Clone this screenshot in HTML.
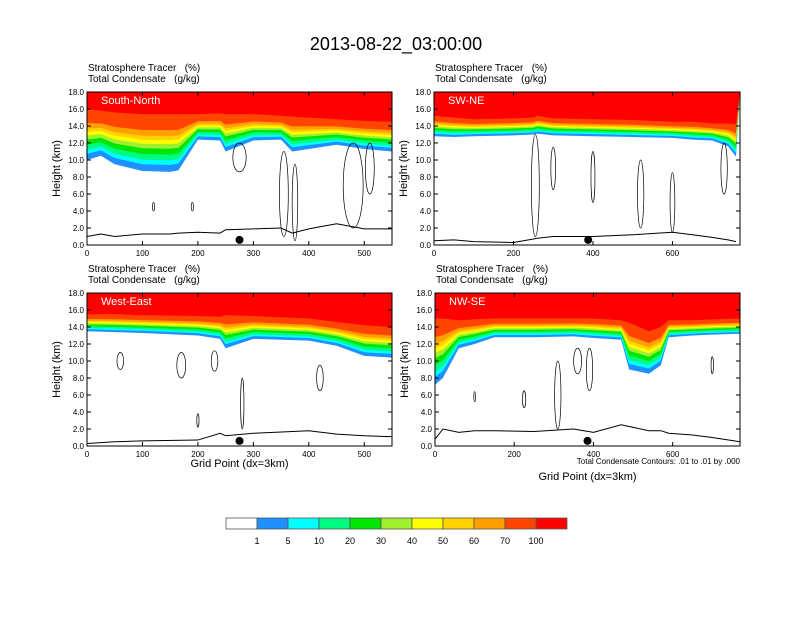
<!DOCTYPE html>
<html><head><meta charset="utf-8"><style>
body{margin:0;background:#fff}
svg text{font-family:"Liberation Sans",sans-serif;white-space:pre}
</style></head><body>
<svg id="fig" width="792" height="612" viewBox="0 0 792 612" xmlns="http://www.w3.org/2000/svg">
<text x="396" y="50" font-size="18" text-anchor="middle">2013-08-22_03:00:00</text>
</svg>
<script>
const NS="http://www.w3.org/2000/svg";
const svg=document.getElementById('fig');
const colors=['#ffffff','#1e90ff','#00ffff','#00fa82','#00e600','#a0f030','#ffff00','#ffd200','#ffa000','#ff4500','#ff0000'];
const cbLabels=['1','5','10','20','30','40','50','60','70','100'];
const yTicks=[0,2,4,6,8,10,12,14,16,18];
const tlX=[0,25,50,100,150,165,200,240,250,300,350,370,400,450,500,550];
const tlRed=[16.0,15.8,15.6,15.4,15.4,15.4,15.4,15.5,15.4,15.4,15.2,15.1,15.0,14.8,14.6,14.5];
const tlBot=[10.0,10.5,9.5,8.7,8.6,8.8,12.4,12.3,11.0,12.3,12.4,11.0,11.3,11.8,11.3,11.0];
const tlTer=[1.0,1.3,1.0,1.3,1.3,1.4,1.5,1.4,1.8,1.9,2.0,1.4,1.9,2.5,1.9,1.9];
const trX=[0,50,100,200,250,260,300,400,500,600,650,700,740,760];
const trRed=[15.2,15.0,14.8,14.9,15.0,15.2,14.9,14.8,14.7,14.5,14.5,14.3,14.3,14.2];
const trBot=[12.8,12.7,12.8,12.9,13.0,13.1,12.9,12.8,12.7,12.6,12.4,12.3,11.6,10.4];
const trTer=[0.5,0.6,0.4,0.3,0.7,0.8,1.0,1.0,1.2,1.5,1.2,0.9,0.6,0.4];
const blX=[0,50,100,200,240,250,300,400,450,500,550];
const blRed=[15.5,15.5,15.4,15.3,15.2,15.4,15.3,15.0,14.6,14.2,14.0];
const blBot=[13.5,13.4,13.3,13.0,12.6,11.5,12.6,12.4,11.8,10.6,10.4];
const blTer=[0.3,0.5,0.6,0.7,1.5,1.2,1.5,1.8,1.4,1.2,1.1];
const brX=[0,20,60,100,150,250,350,400,470,490,540,570,590,650,700,770];
const brRed=[15.0,15.0,14.8,14.9,15.0,15.0,15.0,15.0,14.8,14.5,13.5,14.0,14.8,14.8,14.9,15.0];
const brBot=[7.2,8.0,11.5,12.0,12.8,12.8,12.9,12.7,12.5,9.0,8.5,9.5,12.8,13.0,13.1,13.2];
const brTer=[0.8,2.0,1.6,1.8,1.8,1.7,2.0,1.6,2.5,2.3,1.8,1.8,1.5,1.3,1.0,0.5];
const fr=[0,0.12,0.2,0.3,0.4,0.48,0.55,0.62,0.72,1.0];

function el(tag,attrs,parent){const e=document.createElementNS(NS,tag);for(const k in attrs)e.setAttribute(k,attrs[k]);(parent||svg).appendChild(e);return e;}
function txt(s,x,y,size,anchor,parent,fill){const t=el('text',{x:x,y:y,'font-size':size,'text-anchor':anchor||'start',fill:fill||'#000'},parent);t.textContent=s;return t;}

function panel(name,label,px,py,pw,ph,xmax,xticks,X,RED,BOT,TER,dotX,xtitle,contours){
  const g=el('g',{});
  
  
  const sx=v=>px+v/xmax*pw, sy=v=>py+ph-v/18*ph;
  el('rect',{x:px,y:py,width:pw,height:ph,fill:'#fff'},g);
  for(let b=1;b<=10;b++){
    let pts=[[sx(0),py]];
    for(let i=0;i<X.length;i++){const lo=BOT[i]+(RED[i]-BOT[i])*fr[b-1];pts.push([sx(X[i]),sy(lo)]);}
    pts.push([sx(xmax),py]);
    const p=el('polygon',{points:pts.map(q=>q.join(',')).join(' '),fill:colors[b]},g);
    
    
  }
  contours.forEach(c=>{
    const e=el('ellipse',{cx:sx(c[0]),cy:sy(c[1]),rx:c[2]/xmax*pw,ry:c[3]/18*ph,fill:'none',stroke:'#000','stroke-width':0.7},g);
    
    
  });
  const tp=el('polyline',{points:X.map((x,i)=>sx(x)+','+sy(TER[i])).join(' '),fill:'none',stroke:'#000','stroke-width':1},g);
  
  
  const d=el('circle',{cx:sx(dotX),cy:sy(0.6),r:4,fill:'#000'},g);
  
  
  el('rect',{x:px,y:py,width:pw,height:ph,fill:'none',stroke:'#000','stroke-width':1},g);
  yTicks.forEach(v=>{
    el('line',{x1:px,x2:px+4,y1:sy(v),y2:sy(v),stroke:'#000'},g);
    el('line',{x1:px+pw,x2:px+pw-4,y1:sy(v),y2:sy(v),stroke:'#000'},g);
    const t=txt(v.toFixed(1),px-3,sy(v)+3,8,'end',g);
    
    
  });
  xticks.forEach(v=>{
    el('line',{x1:sx(v),x2:sx(v),y1:py+ph,y2:py+ph-4,stroke:'#000'},g);
    el('line',{x1:sx(v),x2:sx(v),y1:py,y2:py+4,stroke:'#000'},g);
    const t=txt(String(v),sx(v),py+ph+11,8,'middle',g);
    
    
  });
  const l=txt(label,px+14,py+12,11,'start',g,'#fff');
  
  
  const a=txt('Stratosphere Tracer   (%)',px+1,py-21,10,'start',g);
  
  
  const b=txt('Total Condensate   (g/kg)',px+1,py-10,10,'start',g);
  
  
  const yt=txt('Height (km)',0,0,11,'middle',g);
  yt.setAttribute('transform','translate('+(px-27)+','+(py+ph/2)+') rotate(-90)');
  
  
  if(xtitle){const xt=txt('Grid Point (dx=3km)',px+pw/2,xtitle,11,'middle',g);
    
    }
}
panel('panel-south-north','South-North',87,92,305,153,550,[0,100,200,300,400,500],tlX,tlRed,tlBot,tlTer,275,null,
 [[275,10.3,12,1.7],[355,6,8,5],[375,5,5,4.5],[480,7,18,5],[510,9,8,3],[120,4.5,2,0.5],[190,4.5,2,0.5]]);
panel('panel-sw-ne','SW-NE',434,92,306,153,770,[0,200,400,600],trX,trRed,trBot,trTer,388,null,
 [[255,7,10,6],[300,9,6,2.5],[400,8,5,3],[520,6,8,4],[600,5,6,3.5],[730,9,8,3]]);
panel('panel-west-east','West-East',87,293,305,153,550,[0,100,200,300,400,500],blX,blRed,blBot,blTer,275,467,
 [[60,10,6,1],[170,9.5,8,1.5],[230,10,6,1.2],[280,5,3,3],[420,8,6,1.5],[200,3,2,0.8]]);
panel('panel-nw-se','NW-SE',435,293,305,153,770,[0,200,400,600],brX,brRed,brBot,brTer,385,480,
 [[100,5.8,2,0.6],[225,5.5,4,1],[310,6,8,4],[360,10,10,1.5],[390,9,8,2.5],[700,9.5,3,1]]);
const cap=txt('Total Condensate Contours: .01 to .01 by .000',740,464,8,'end');


const cb=el('g',{});


const cbx=226,cby=518,cbw=31,cbh=11;
colors.forEach((c,i)=>{
  const r=el('rect',{x:cbx+i*cbw,y:cby,width:cbw,height:cbh,fill:c,stroke:'#555','stroke-width':0.8},cb);
  
  
});
cbLabels.forEach((s,i)=>{
  const t=txt(s,cbx+(i+1)*cbw,cby+26,9,'middle',cb);
  
  
});
</script>
</body></html>
